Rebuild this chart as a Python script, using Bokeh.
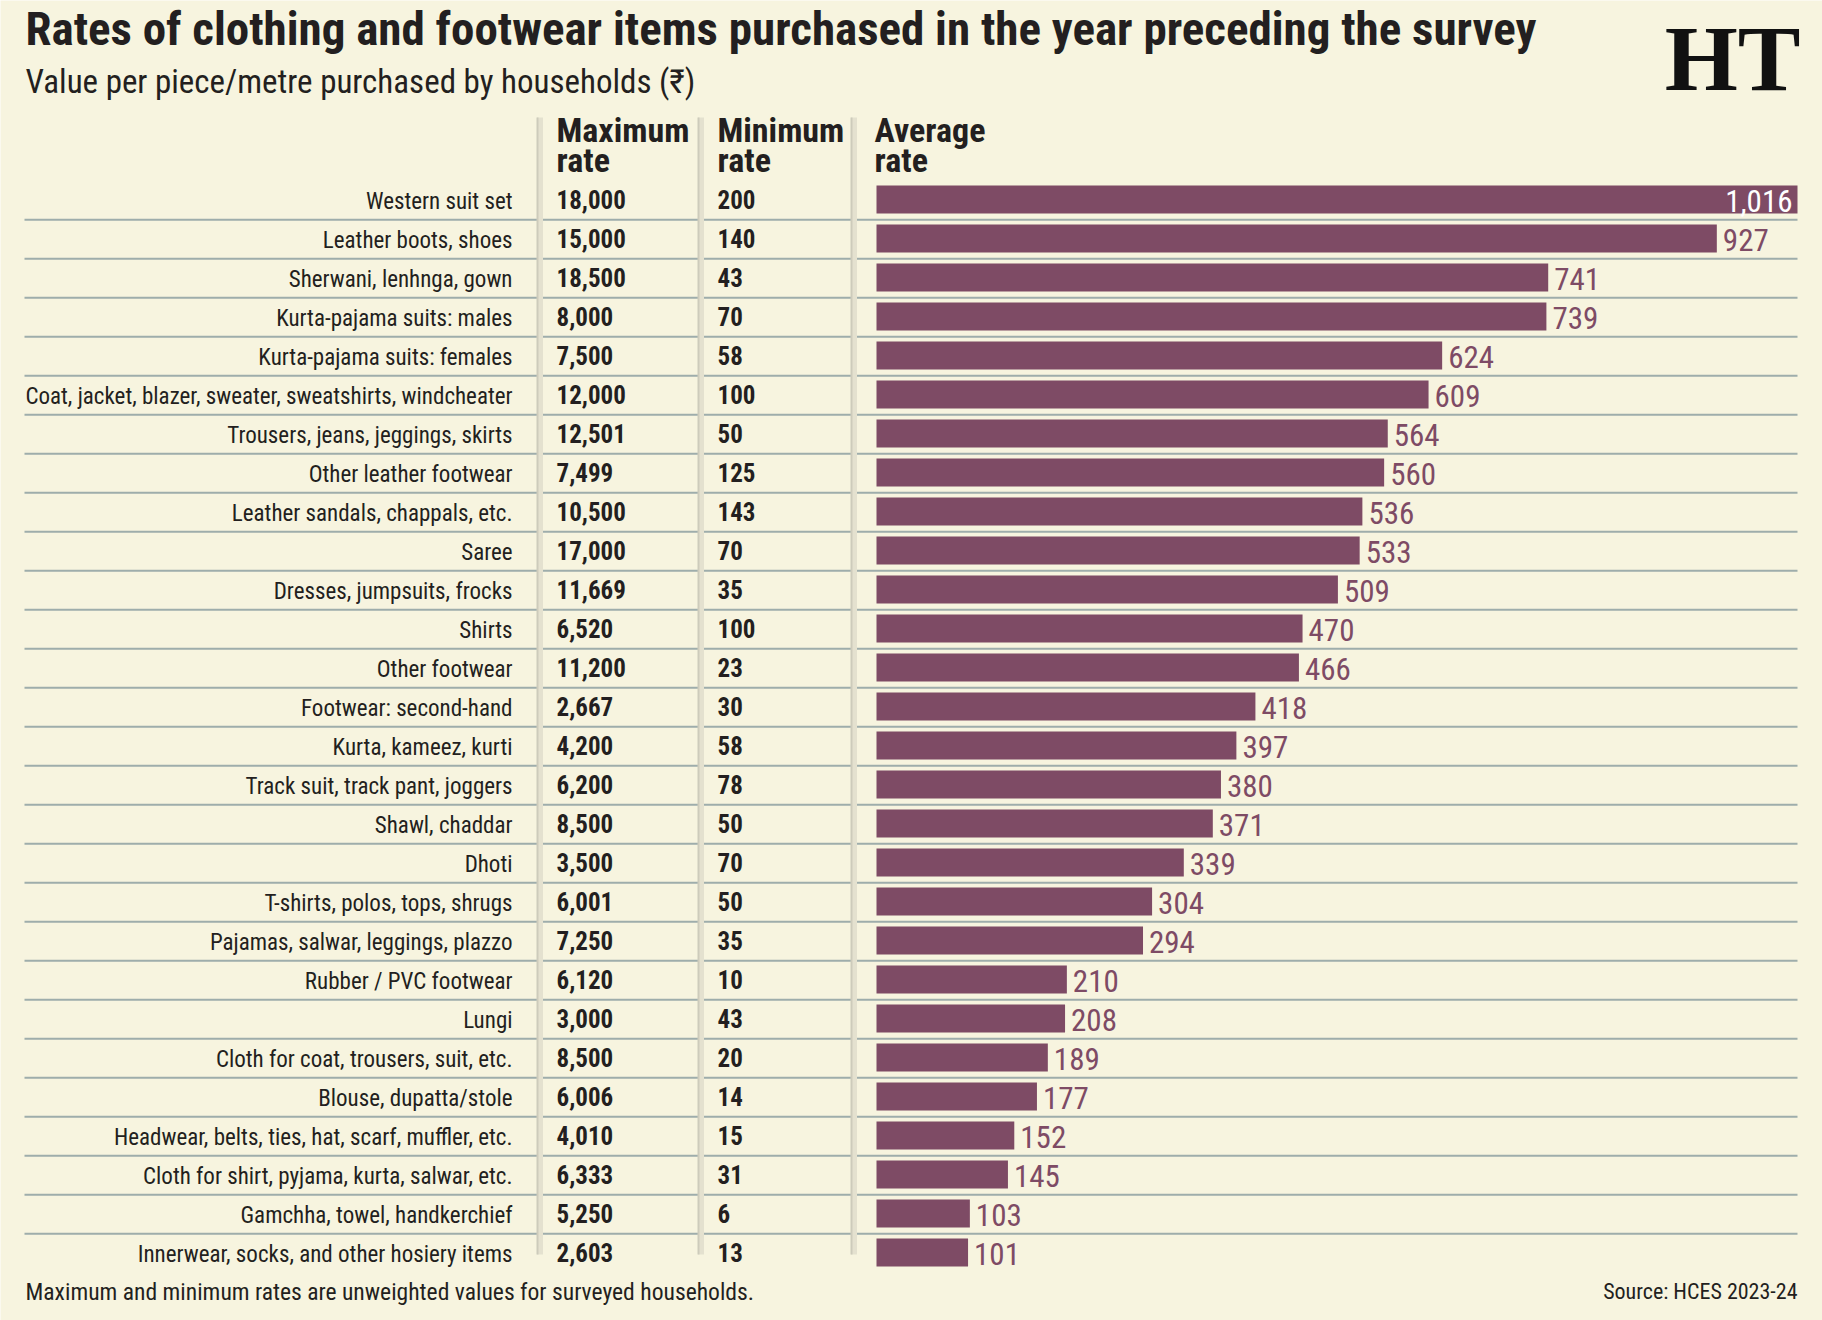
from bokeh.plotting import figure
from bokeh.models import Range1d, ColumnDataSource
from bokeh.core.properties import value
from bokeh.embed import file_html
from bokeh.resources import INLINE

# ---- data -------------------------------------------------------------
items = [
    "Western suit set",
    "Leather boots, shoes",
    "Sherwani, lenhnga, gown",
    "Kurta-pajama suits: males",
    "Kurta-pajama suits: females",
    "Coat, jacket, blazer, sweater, sweatshirts, windcheater",
    "Trousers, jeans, jeggings, skirts",
    "Other leather footwear",
    "Leather sandals, chappals, etc.",
    "Saree",
    "Dresses, jumpsuits, frocks",
    "Shirts",
    "Other footwear",
    "Footwear: second-hand",
    "Kurta, kameez, kurti",
    "Track suit, track pant, joggers",
    "Shawl, chaddar",
    "Dhoti",
    "T-shirts, polos, tops, shrugs",
    "Pajamas, salwar, leggings, plazzo",
    "Rubber / PVC footwear",
    "Lungi",
    "Cloth for coat, trousers, suit, etc.",
    "Blouse, dupatta/stole",
    "Headwear, belts, ties, hat, scarf, muffler, etc.",
    "Cloth for shirt, pyjama, kurta, salwar, etc.",
    "Gamchha, towel, handkerchief",
    "Innerwear, socks, and other hosiery items",
]
max_rate = [18000, 15000, 18500, 8000, 7500, 12000, 12501, 7499, 10500, 17000,
            11669, 6520, 11200, 2667, 4200, 6200, 8500, 3500, 6001, 7250,
            6120, 3000, 8500, 6006, 4010, 6333, 5250, 2603]
min_rate = [200, 140, 43, 70, 58, 100, 50, 125, 143, 70,
            35, 100, 23, 30, 58, 78, 50, 70, 50, 35,
            10, 43, 20, 14, 15, 31, 6, 13]
avg_rate = [1016, 927, 741, 739, 624, 609, 564, 560, 536, 533,
            509, 470, 466, 418, 397, 380, 371, 339, 304, 294,
            210, 208, 189, 177, 152, 145, 103, 101]

column_heads = [("Maximum", "rate"), ("Minimum", "rate"), ("Average", "rate")]

title = "Rates of clothing and footwear items purchased in the year preceding the survey"
subtitle = "Value per piece/metre purchased by households (\u20b9)"
note = "Maximum and minimum rates are unweighted values for surveyed households."
source_note = "Source: HCES 2023-24"

# ---- styling ----------------------------------------------------------
W, H = 1822, 1320
BG = "#f7f4df"
BAR = "#7e4b65"
INK = "#231f20"
RULE = "#9eadab"
COND = "'Roboto Condensed', 'DejaVu Sans Condensed', 'Liberation Sans Narrow', Roboto, sans-serif"

ROW0, PITCH = 199, 39          # centre of first row and row pitch (px)
BAR_X0, BAR_X1 = 876, 1797     # pixel extent of the longest bar
LABEL_RIGHT = 512
COL_X = [556, 717, 874]
LEFT, RIGHT = 24, 1797

p = figure(width=W, height=H, x_range=Range1d(0, W), y_range=Range1d(H, 0),
           output_backend="svg", toolbar_location=None, min_border=0)
p.axis.visible = False
p.grid.visible = False
p.outline_line_color = None
p.background_fill_color = BG
p.border_fill_color = BG

# row index scale (row 0 at top) and value scale for the average bars
p.extra_y_ranges = {"rows": Range1d(start=(H - ROW0) / PITCH, end=-ROW0 / PITCH)}
k = (BAR_X1 - BAR_X0) / max(avg_rate)
p.extra_x_ranges = {"avg": Range1d(start=-BAR_X0 / k, end=(W - BAR_X0) / k)}

n = len(items)
rows = list(range(n))
src = ColumnDataSource(dict(
    row=rows, item=items,
    max_txt=[f"{v:,}" for v in max_rate],
    min_txt=[f"{v:,}" for v in min_rate],
    avg=avg_rate,
))

# horizontal rules between rows
p.segment(x0=LEFT, x1=RIGHT, y0=[r + 0.52 for r in rows[:-1]], y1=[r + 0.52 for r in rows[:-1]],
          y_range_name="rows", line_color=RULE, line_width=2)

# soft vertical column dividers
for xv in [537, 698, 851]:
    p.segment(x0=xv + 2.5, x1=xv + 2.5, y0=117, y1=1254, line_color="#e4e1cf", line_width=6)
    p.segment(x0=xv, x1=xv, y0=117, y1=1254, line_color="#cdcbbb", line_width=2)

# average-rate bars
p.hbar(y="row", left=0, right="avg", height=28 / PITCH, source=src,
       x_range_name="avg", y_range_name="rows", fill_color=BAR, line_color=None)

# value labels: inside the bar when it reaches the edge, otherwise after it
top = max(avg_rate)
inside = ColumnDataSource(dict(
    row=[r for r in rows if avg_rate[r] == top],
    avg=[avg_rate[r] for r in rows if avg_rate[r] == top],
    txt=[f"{avg_rate[r]:,}" for r in rows if avg_rate[r] == top]))
outside = ColumnDataSource(dict(
    row=[r for r in rows if avg_rate[r] != top],
    avg=[avg_rate[r] for r in rows if avg_rate[r] != top],
    txt=[f"{avg_rate[r]:,}" for r in rows if avg_rate[r] != top]))
p.text(x="avg", y="row", text="txt", source=outside, x_range_name="avg", y_range_name="rows",
       x_offset=6, y_offset=1, text_align="left", text_baseline="middle",
       text_font=value(COND), text_font_size="31px", text_color=BAR)
p.text(x="avg", y="row", text="txt", source=inside, x_range_name="avg", y_range_name="rows",
       x_offset=-5, y_offset=1, text_align="right", text_baseline="middle",
       text_font=value(COND), text_font_size="31px", text_color="white")

# item names, maximum and minimum columns
p.text(x=LABEL_RIGHT, y="row", text="item", source=src, y_range_name="rows",
       y_offset=1.5, text_align="right", text_baseline="middle",
       text_font=value(COND), text_font_size="23px", text_color=INK)
p.text(x=COL_X[0], y="row", text="max_txt", source=src, y_range_name="rows",
       y_offset=0, text_align="left", text_baseline="middle",
       text_font=value(COND), text_font_style="bold", text_font_size="25px", text_color=INK)
p.text(x=COL_X[1], y="row", text="min_txt", source=src, y_range_name="rows",
       y_offset=0, text_align="left", text_baseline="middle",
       text_font=value(COND), text_font_style="bold", text_font_size="25px", text_color=INK)

# column headings (two lines each)
p.text(x=COL_X, y=[129] * 3, text=[h[0] for h in column_heads], text_baseline="middle",
       text_font=value(COND), text_font_style="bold", text_font_size="34px", text_color=INK)
p.text(x=COL_X, y=[159] * 3, text=[h[1] for h in column_heads], text_baseline="middle",
       text_font=value(COND), text_font_style="bold", text_font_size="34px", text_color=INK)

# title block
p.text(x=[25], y=[28], text=[title], text_baseline="middle",
       text_font=value(COND), text_font_style="bold", text_font_size="47px", text_color=INK)
p.text(x=[25], y=[81], text=[subtitle], text_baseline="middle",
       text_font=value(COND), text_font_size="33px", text_color=INK)
p.text(x=[1800], y=[57], text=["HT"], text_align="right", text_baseline="middle",
       text_font=value("Liberation Serif"), text_font_style="bold", text_font_size="94px",
       text_color="#111111")

# footer
p.text(x=[25], y=[1291], text=[note], text_baseline="middle",
       text_font=value(COND), text_font_size="23.6px", text_color=INK)
p.text(x=[RIGHT], y=[1291], text=[source_note], text_align="right", text_baseline="middle",
       text_font=value(COND), text_font_size="22px", text_color=INK)

open("out.html", "w").write(file_html(p, INLINE))
